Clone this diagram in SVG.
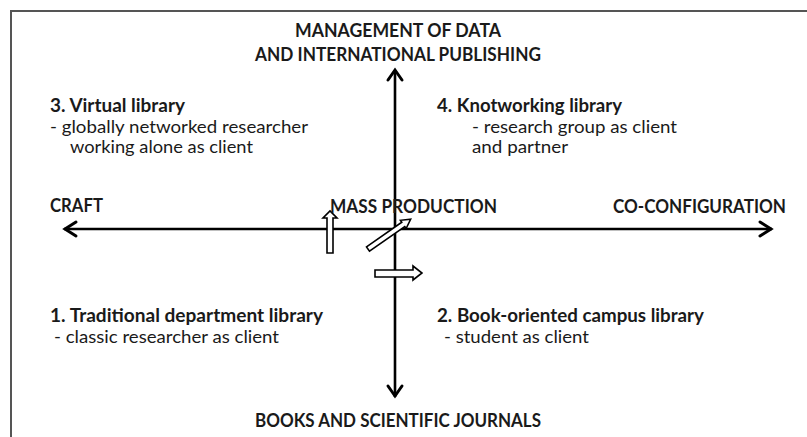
<svg xmlns="http://www.w3.org/2000/svg" width="807" height="437" viewBox="0 0 807 437">
<style>
text{font-family:Lato,"Open Sans","Liberation Sans",sans-serif;fill:#1a1a1a;font-size:18px}
.b{font-weight:bold}
.r{font-weight:normal}
.ax{stroke:#000;stroke-width:2.6;fill:none}
.hd{stroke:#000;stroke-width:3;fill:none;stroke-linecap:round;stroke-linejoin:miter}
.blk{fill:#fff;stroke:#000;stroke-width:1.6;stroke-linejoin:miter}
</style>
<rect width="807" height="437" fill="#fff"/>
<rect x="11" y="11" width="900" height="500" fill="none" stroke="#555" stroke-width="2"/>
<g id="connectors">
  <line class="ax" x1="64" y1="229" x2="772" y2="229"/>
  <polyline class="hd" points="76,222 65,229 76,236"/>
  <polyline class="hd" points="760,222 771,229 760,236"/>
  <line class="ax" x1="395" y1="70" x2="395" y2="397"/>
  <polyline class="hd" points="388,80 395,70 402,80"/>
  <polyline class="hd" points="388,386 395,396 402,386"/>
  <polygon class="blk" points="327,253 327,218 323,218 330,211 337,218 333,218 333,253"/>
  <polygon class="blk" transform="translate(368,249) rotate(-34.9)" points="0,-2.6 43,-2.6 43,-5 52,0 43,5 43,2.6 0,2.6"/>
  <polygon class="blk" points="375,270 413,270 413,266 422,273 413,280 413,277 375,277"/>
</g>
<g id="top-label">
  <text class="b" x="398" y="37" text-anchor="middle" textLength="206" lengthAdjust="spacingAndGlyphs">MANAGEMENT OF DATA</text>
  <text class="b" x="398" y="61" text-anchor="middle" textLength="286" lengthAdjust="spacingAndGlyphs">AND INTERNATIONAL PUBLISHING</text>
</g>
<g id="bottom-label">
  <text class="b" x="398" y="427" text-anchor="middle" textLength="286" lengthAdjust="spacingAndGlyphs">BOOKS AND SCIENTIFIC JOURNALS</text>
</g>
<g id="craft">
  <text class="b" x="50" y="212" textLength="53" lengthAdjust="spacingAndGlyphs">CRAFT</text>
</g>
<g id="mass-production">
  <text class="b" x="330" y="213" textLength="167" lengthAdjust="spacingAndGlyphs">MASS PRODUCTION</text>
</g>
<g id="co-configuration">
  <text class="b" x="613" y="213" textLength="173" lengthAdjust="spacingAndGlyphs">CO-CONFIGURATION</text>
</g>
<g id="virtual-library">
  <text class="b" x="50" y="112" textLength="135" lengthAdjust="spacingAndGlyphs">3. Virtual library</text>
  <text class="r" x="50" y="133" textLength="258" lengthAdjust="spacingAndGlyphs">- globally networked researcher</text>
  <text class="r" x="70" y="153" textLength="183" lengthAdjust="spacingAndGlyphs">working alone as client</text>
</g>
<g id="knotworking-library">
  <text class="b" x="437" y="112" textLength="185" lengthAdjust="spacingAndGlyphs">4. Knotworking library</text>
  <text class="r" x="472" y="133" textLength="205" lengthAdjust="spacingAndGlyphs">- research group as client</text>
  <text class="r" x="472" y="153" textLength="96" lengthAdjust="spacingAndGlyphs">and partner</text>
</g>
<g id="traditional-library">
  <text class="b" x="50" y="322" textLength="273" lengthAdjust="spacingAndGlyphs">1. Traditional department library</text>
  <text class="r" x="54" y="343" textLength="225" lengthAdjust="spacingAndGlyphs">- classic researcher as client</text>
</g>
<g id="campus-library">
  <text class="b" x="437" y="322" textLength="267" lengthAdjust="spacingAndGlyphs">2. Book-oriented campus library</text>
  <text class="r" x="444" y="343" textLength="145" lengthAdjust="spacingAndGlyphs">- student as client</text>
</g>
</svg>
